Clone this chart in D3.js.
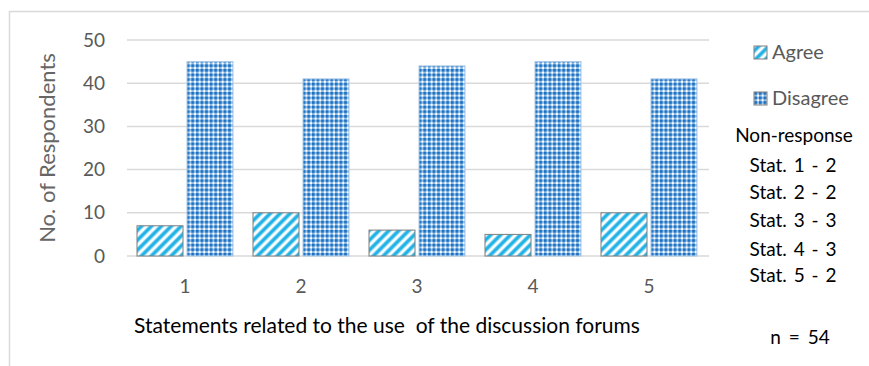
<!DOCTYPE html>
<html>
<head>
<meta charset="utf-8">
<script src="https://cdn.jsdelivr.net/npm/d3@7"></script>
<style>
  body { margin: 0; background: #fff; }
  svg { display: block; font-family: Lato, "Open Sans", sans-serif; }
</style>
</head>
<body>
<div id="chart"></div>
<script>
const statements = ["1", "2", "3", "4", "5"];
const series = ["Agree", "Disagree"];
const agree = [7, 10, 6, 5, 10];
const disagree = [45, 41, 44, 45, 41];
const yTicks = [0, 10, 20, 30, 40, 50];
const nonResponse = ["Stat. 1 - 2", "Stat. 2 - 2", "Stat. 3 - 3", "Stat. 4 - 3", "Stat. 5 - 2"];

const W = 869, H = 366;
const font = "Lato, 'Open Sans', sans-serif";

const svg = d3.select("#chart").append("svg")
    .attr("width", W)
    .attr("height", H);

// fill patterns
const defs = svg.append("defs");
const stripe = defs.append("pattern")
    .attr("id", "stripe")
    .attr("patternUnits", "userSpaceOnUse")
    .attr("width", 7)
    .attr("height", 7)
    .attr("patternTransform", "rotate(45)");
stripe.append("rect").attr("width", 7).attr("height", 7).attr("fill", "#ffffff");
stripe.append("rect").attr("x", 0).attr("width", 4.4).attr("height", 7).attr("fill", "#8fd6f2");
stripe.append("rect").attr("x", 0.8).attr("width", 2.8).attr("height", 7).attr("fill", "#1cb2e6");

const check = defs.append("pattern")
    .attr("id", "check")
    .attr("patternUnits", "userSpaceOnUse")
    .attr("width", 4.6)
    .attr("height", 4.6);
check.append("rect").attr("width", 4.6).attr("height", 4.6).attr("fill", "#8dbbe6");
check.append("rect").attr("width", 2.6).attr("height", 2.6).attr("fill", "#1a6fbf");
check.append("rect").attr("x", 2.6).attr("y", 2.6).attr("width", 2).attr("height", 2).attr("fill", "#ffffff");

// outer frame
svg.append("rect")
    .attr("x", 9.5).attr("y", 11.5)
    .attr("width", W).attr("height", H)
    .attr("fill", "none")
    .attr("stroke", "#d9d9d9")
    .attr("stroke-width", 1.5);

const x0 = d3.scaleBand().domain(statements).range([127, 707]);
const x1 = d3.scaleBand().domain(series).range([10, 106]).paddingInner(0.08);
const y = d3.scaleLinear().domain([0, 50]).range([256, 40]);

// gridlines
svg.append("g")
    .selectAll("line")
    .data(yTicks)
    .join("line")
    .attr("x1", 127).attr("x2", 709)
    .attr("y1", d => y(d)).attr("y2", d => y(d))
    .attr("stroke", "#d9d9d9")
    .attr("stroke-width", 1.5);

// y axis labels
const yAxis = svg.append("g")
    .attr("transform", "translate(111,0)")
    .call(d3.axisLeft(y).tickValues(yTicks).tickSize(0).tickPadding(6));
yAxis.select(".domain").remove();
yAxis.selectAll("text")
    .attr("fill", "#595959")
    .style("font-size", "19px")
    .style("font-family", font);

// bars
const rows = statements.map((s, i) => ({ s, values: [
    { key: "Agree", v: agree[i] },
    { key: "Disagree", v: disagree[i] }
]}));

const groups = svg.append("g")
    .selectAll("g")
    .data(rows)
    .join("g")
    .attr("transform", d => `translate(${x0(d.s)},0)`);

groups.selectAll("rect")
    .data(d => d.values)
    .join("rect")
    .attr("x", d => x1(d.key))
    .attr("width", x1.bandwidth())
    .attr("y", d => y(d.v))
    .attr("height", d => y(0) - y(d.v))
    .attr("fill", d => d.key === "Agree" ? "url(#stripe)" : "url(#check)")
    .attr("stroke", d => d.key === "Agree" ? "#7f7f7f" : "#a9c8e8")
    .attr("stroke-width", 1);

// x axis labels
const xAxis = svg.append("g")
    .attr("transform", `translate(0,${y(0)})`)
    .call(d3.axisBottom(x0).tickSize(0).tickPadding(24));
xAxis.select(".domain").remove();
xAxis.selectAll("text")
    .attr("fill", "#595959")
    .style("font-size", "19px")
    .style("font-family", font);

// axis titles
svg.append("text")
    .attr("transform", "translate(55,148) rotate(-90)")
    .attr("text-anchor", "middle")
    .attr("fill", "#666")
    .style("font-size", "22px")
    .text("No. of Respondents");

svg.append("text")
    .attr("x", 387).attr("y", 333)
    .attr("text-anchor", "middle")
    .attr("fill", "#000")
    .style("font-size", "21px")
    .attr("xml:space", "preserve")
    .text("Statements related to the use  of the discussion forums");

// legend
const legendY = [52, 98];
series.forEach((k, i) => {
    svg.append("rect")
        .attr("x", 754).attr("y", legendY[i] - 6)
        .attr("width", 13).attr("height", 13)
        .attr("fill", i === 0 ? "url(#stripe)" : "url(#check)")
        .attr("stroke", "#7f7f7f")
        .attr("stroke-width", 1);
    svg.append("text")
        .attr("x", 772).attr("y", legendY[i])
        .attr("dy", "0.35em")
        .attr("fill", "#595959")
        .style("font-size", "20px")
        .text(k);
});

svg.append("text")
    .attr("x", 794).attr("y", 135)
    .attr("dy", "0.35em")
    .attr("text-anchor", "middle")
    .attr("fill", "#000")
    .style("font-size", "19px")
    .text("Non-response");

const statY = [165, 192, 220, 249, 275];
svg.append("g")
    .selectAll("text")
    .data(nonResponse)
    .join("text")
    .attr("x", 793)
    .attr("y", (d, i) => statY[i])
    .attr("dy", "0.35em")
    .attr("text-anchor", "middle")
    .attr("fill", "#000")
    .style("font-size", "19px")
    .style("word-spacing", "2px")
    .text(d => d);

svg.append("text")
    .attr("x", 800).attr("y", 337)
    .attr("dy", "0.35em")
    .attr("text-anchor", "middle")
    .attr("fill", "#000")
    .style("font-size", "19px")
    .style("word-spacing", "3px")
    .text("n = 54");
</script>
</body>
</html>
